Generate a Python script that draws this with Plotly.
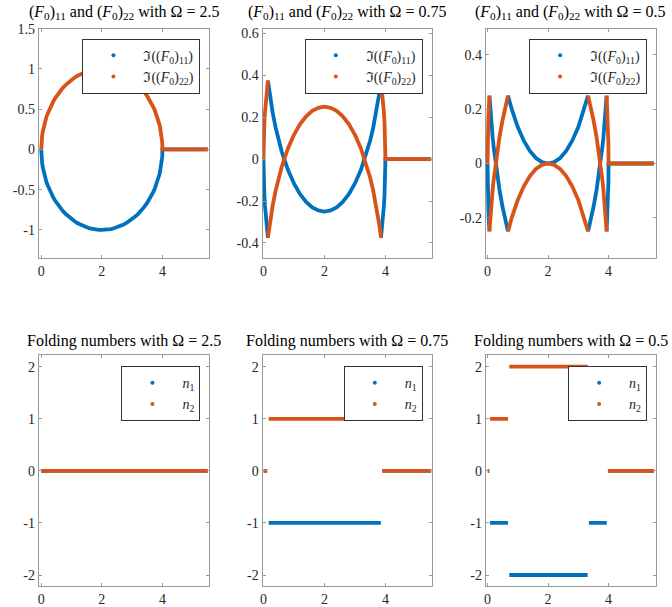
import plotly.graph_objects as go

BLUE = "#0072BD"
ORANGE = "#D95319"

# ---------------- data ----------------
# Omega = 2.5 : Im((F0)11) and Im((F0)22)
X_W25 = [0, 0.005, 0.01, 0.02, 0.03, 0.05, 0.08, 0.1, 0.125, 0.15,
         0.17, 0.2, 0.25, 0.3, 0.35, 0.4, 0.45, 0.5, 0.6, 0.7,
         0.8, 0.9, 1.0, 1.1, 1.2, 1.3, 1.4, 1.5, 1.6, 1.7,
         1.8, 1.9, 2.0, 2.1, 2.2, 2.3, 2.4, 2.5, 2.6, 2.7,
         2.8, 2.9, 3.0, 3.1, 3.2, 3.3, 3.4, 3.5, 3.55, 3.6,
         3.65, 3.7, 3.75, 3.8, 3.83, 3.85, 3.875, 3.9, 3.92, 3.95,
         3.97, 3.98, 3.99, 3.995, 4.0, 5.5]
IM11_W25 = [0, -0.071, -0.100, -0.141, -0.173, -0.222, -0.280, -0.312, -0.348, -0.380,
            -0.404, -0.436, -0.484, -0.527, -0.565, -0.600, -0.632, -0.661, -0.714, -0.760,
            -0.800, -0.835, -0.866, -0.893, -0.917, -0.937, -0.954, -0.968, -0.980, -0.989,
            -0.995, -0.999, -1.0, -0.999, -0.995, -0.989, -0.980, -0.968, -0.954, -0.937,
            -0.917, -0.893, -0.866, -0.835, -0.800, -0.760, -0.714, -0.661, -0.632, -0.600,
            -0.565, -0.527, -0.484, -0.436, -0.404, -0.380, -0.348, -0.312, -0.280, -0.222,
            -0.173, -0.141, -0.100, -0.071, 0, 0]
IM22_W25 = [0, 0.071, 0.100, 0.141, 0.173, 0.222, 0.280, 0.312, 0.348, 0.380,
            0.404, 0.436, 0.484, 0.527, 0.565, 0.600, 0.632, 0.661, 0.714, 0.760,
            0.800, 0.835, 0.866, 0.893, 0.917, 0.937, 0.954, 0.968, 0.980, 0.989,
            0.995, 0.999, 1.0, 0.999, 0.995, 0.989, 0.980, 0.968, 0.954, 0.937,
            0.917, 0.893, 0.866, 0.835, 0.800, 0.760, 0.714, 0.661, 0.632, 0.600,
            0.565, 0.527, 0.484, 0.436, 0.404, 0.380, 0.348, 0.312, 0.280, 0.222,
            0.173, 0.141, 0.100, 0.071, 0, 0]

# Omega = 0.75 (None separates branches)
X_W075 = [0, 0.005, 0.01, 0.02, 0.03, 0.05, 0.08, 0.1, 0.125, 0.146, None,
          0.146, 0.17, 0.2, 0.25, 0.3, 0.4, 0.5, 0.6, 0.8, 1.0, 1.2, 1.4, 1.6, 1.8, 2.0,
          2.2, 2.4, 2.6, 2.8, 3.0, 3.2, 3.4, 3.5, 3.6, 3.7, 3.75, 3.8, 3.83, 3.854, None,
          3.854, 3.875, 3.9, 3.92, 3.95, 3.97, 3.98, 3.99, 3.995, 4.0, 5.5]
IM11_W075 = [0, -0.071, -0.100, -0.141, -0.173, -0.222, -0.280, -0.312, -0.348, -0.375, None,
             0.375, 0.347, 0.314, 0.266, 0.223, 0.150, 0.089, 0.036, -0.050, -0.116, -0.167, -0.204,
             -0.230, -0.245, -0.250,
             -0.245, -0.230, -0.204, -0.167, -0.116, -0.050, 0.036, 0.089, 0.150, 0.223, 0.266,
             0.314, 0.347, 0.375, None,
             -0.375, -0.348, -0.312, -0.280, -0.222, -0.173, -0.141, -0.100, -0.071, 0, 0]
IM22_W075 = [0, 0.071, 0.100, 0.141, 0.173, 0.222, 0.280, 0.312, 0.348, 0.375, None,
             -0.375, -0.347, -0.314, -0.266, -0.223, -0.150, -0.089, -0.036, 0.050, 0.116, 0.167, 0.204,
             0.230, 0.245, 0.250,
             0.245, 0.230, 0.204, 0.167, 0.116, 0.050, -0.036, -0.089, -0.150, -0.223, -0.266,
             -0.314, -0.347, -0.375, None,
             0.375, 0.348, 0.312, 0.280, 0.222, 0.173, 0.141, 0.100, 0.071, 0, 0]

# Omega = 0.5
X_W05 = [0, 0.005, 0.01, 0.02, 0.03, 0.05, 0.0635, None,
         0.0635, 0.08, 0.1, 0.125, 0.146, 0.17, 0.2, 0.25, 0.3, 0.4, 0.5, 0.6, 0.677, None,
         0.677, 0.8, 1.0, 1.2, 1.4, 1.6, 1.8, 2.0, 2.2, 2.4, 2.6, 2.8, 3.0, 3.2, 3.323, None,
         3.323, 3.4, 3.5, 3.6, 3.7, 3.75, 3.8, 3.83, 3.854, 3.875, 3.9, 3.92, 3.9365, None,
         3.9365, 3.95, 3.97, 3.98, 3.99, 3.995, 4.0, 5.5]
IM11_W05 = [0, -0.071, -0.100, -0.141, -0.173, -0.222, -0.25, None,
            0.25, 0.22, 0.188, 0.152, 0.125, 0.097, 0.064, 0.016, -0.027, -0.100, -0.161, -0.214, -0.25, None,
            0.25, 0.200, 0.134, 0.084, 0.046, 0.020, 0.005, 0.0, 0.005, 0.020, 0.046, 0.084, 0.134, 0.200, 0.25, None,
            -0.25, -0.214, -0.161, -0.100, -0.027, 0.016, 0.064, 0.097, 0.125, 0.152, 0.188, 0.22, 0.25, None,
            -0.25, -0.222, -0.173, -0.141, -0.100, -0.071, 0, 0]
IM22_W05 = [0, 0.071, 0.100, 0.141, 0.173, 0.222, 0.25, None,
            -0.25, -0.22, -0.188, -0.152, -0.125, -0.097, -0.064, -0.016, 0.027, 0.100, 0.161, 0.214, 0.25, None,
            -0.25, -0.200, -0.134, -0.084, -0.046, -0.020, -0.005, 0.0, -0.005, -0.020, -0.046, -0.084, -0.134, -0.200, -0.25, None,
            0.25, 0.214, 0.161, 0.100, 0.027, -0.016, -0.064, -0.097, -0.125, -0.152, -0.188, -0.22, -0.25, None,
            0.25, 0.222, 0.173, 0.141, 0.100, 0.071, 0, 0]

# Folding numbers
XN_W25 = [0, 5.5]
N1_W25 = [0, 0]
N2_W25 = [0, 0]

XN_W075 = [0.01, 0.12, None, 0.17, 3.85, None, 3.9, 5.5]
N1_W075 = [0, 0, None, -1, -1, None, 0, 0]
N2_W075 = [0, 0, None, 1, 1, None, 0, 0]

XN_W05 = [0.01, 0.06, None, 0.08, 0.68, None, 0.72, 3.31, None, 3.35, 3.94, None, 3.98, 5.5]
N1_W05 = [0, 0, None, -1, -1, None, -2, -2, None, -1, -1, None, 0, 0]
N2_W05 = [0, 0, None, 1, 1, None, 2, 2, None, 1, 1, None, 0, 0]

OMEGA_LABELS = ["2.5", "0.75", "0.5"]
LEG_TOP = ["ℑ((<i>F</i><sub>0</sub>)<sub>11</sub>)", "ℑ((<i>F</i><sub>0</sub>)<sub>22</sub>)"]
LEG_BOT = ["<i>n</i><sub>1</sub>", "<i>n</i><sub>2</sub>"]

Y_TICKS_TOP = [[-1, -0.5, 0, 0.5, 1, 1.5], [-0.4, -0.2, 0, 0.2, 0.4, 0.6], [-0.2, 0, 0.2, 0.4]]
Y_TEXT_TOP = [["-1", "-0.5", "0", "0.5", "1", "1.5"], ["-0.4", "-0.2", "0", "0.2", "0.4", "0.6"],
              ["-0.2", "0", "0.2", "0.4"]]
Y_TICKS_BOT = [-2, -1, 0, 1, 2]
Y_TEXT_BOT = ["-2", "-1", "0", "1", "2"]
X_TICKS = [0, 2, 4]
X_TEXT = ["0", "2", "4"]

# ---------------- layout geometry ----------------
W, H = 672, 607
FONT = "Liberation Serif"
col_px = [(36, 207.3), (260.7, 430.7), (485, 656)]
row_px = [(22, 254), (352.3, 585.7)]
title_gap = [5, 3]
x_ranges = [[-0.08, 5.55], [-0.03, 5.52], [-0.055, 5.57]]
y_ranges_top = [[-1.35, 1.5], [-0.472, 0.622], [-0.348, 0.496]]
y_range_bot = [-2.21, 2.22]

fig = go.Figure()

top_data = [(X_W25, IM11_W25, IM22_W25), (X_W075, IM11_W075, IM22_W075), (X_W05, IM11_W05, IM22_W05)]
bot_data = [(XN_W25, N1_W25, N2_W25), (XN_W075, N1_W075, N2_W075), (XN_W05, N1_W05, N2_W05)]

axis_common = dict(showgrid=False, zeroline=False, showline=True, linecolor="#999999", linewidth=1,
                   mirror="ticks", ticks="inside", ticklen=3, tickcolor="#999999",
                   tickfont=dict(family=FONT, size=14, color="#262626"))

annotations = []
idx = 0
for r in range(2):
    for c in range(3):
        idx += 1
        xa = "x" if idx == 1 else f"x{idx}"
        ya = "y" if idx == 1 else f"y{idx}"
        leg = "legend" if idx == 1 else f"legend{idx}"
        if r == 0:
            xs, y1, y2 = top_data[c]
            names = LEG_TOP
        else:
            xs, y1, y2 = bot_data[c]
            names = LEG_BOT
        for ys, col, nm in [(y1, BLUE, names[0]), (y2, ORANGE, names[1])]:
            fig.add_trace(go.Scatter(x=xs, y=ys, mode="lines", line=dict(color=col, width=3.8),
                                     xaxis=xa, yaxis=ya, showlegend=False, hoverinfo="skip"))
            fig.add_trace(go.Scatter(x=[None], y=[None], mode="markers", name=nm,
                                     marker=dict(color=col, size=4), xaxis=xa, yaxis=ya,
                                     legend=leg, showlegend=True))
        x0, x1 = col_px[c]
        ytop, ybot = row_px[r]
        xd = [x0 / W, x1 / W]
        yd = [1 - ybot / H, 1 - ytop / H]
        xkey = "xaxis" if idx == 1 else f"xaxis{idx}"
        ykey = "yaxis" if idx == 1 else f"yaxis{idx}"
        fig.layout[xkey] = dict(domain=xd, range=x_ranges[c], anchor=ya, tickvals=X_TICKS,
                                ticktext=X_TEXT, **axis_common)
        if r == 0:
            fig.layout[ykey] = dict(domain=yd, range=y_ranges_top[c], anchor=xa,
                                    tickvals=Y_TICKS_TOP[c], ticktext=Y_TEXT_TOP[c], **axis_common)
        else:
            fig.layout[ykey] = dict(domain=yd, range=y_range_bot, anchor=xa,
                                    tickvals=Y_TICKS_BOT, ticktext=Y_TEXT_BOT, **axis_common)
        fig.layout[leg] = dict(x=(x1 - 9) / W, y=1 - (ytop + (10 if r == 0 else 11)) / H,
                               xanchor="right", yanchor="top", bgcolor="white",
                               bordercolor="#333333", borderwidth=1,
                               font=dict(family=FONT, size=14, color="#262626"),
                               itemwidth=50, tracegroupgap=0)
        if r == 0:
            title = (f"(<i>F</i><sub>0</sub>)<sub>11</sub> and (<i>F</i><sub>0</sub>)<sub>22</sub>"
                     f" with Ω = {OMEGA_LABELS[c]}")
        else:
            title = f"Folding numbers with Ω = {OMEGA_LABELS[c]}"
        annotations.append(dict(text=title, x=(x0 + x1) / 2 / W, y=1 - (ytop - title_gap[r]) / H,
                                xref="paper", yref="paper", xanchor="center", yanchor="bottom",
                                showarrow=False, font=dict(family=FONT, size=16, color="black")))

fig.update_layout(width=W, height=H, margin=dict(l=0, r=0, t=0, b=0),
                  paper_bgcolor="white", plot_bgcolor="white", annotations=annotations)

fig.write_html("out.html", config={"displayModeBar": False},
               post_script="document.body.style.margin='0';document.body.style.padding='0';"
                           "document.body.style.overflow='hidden';")
